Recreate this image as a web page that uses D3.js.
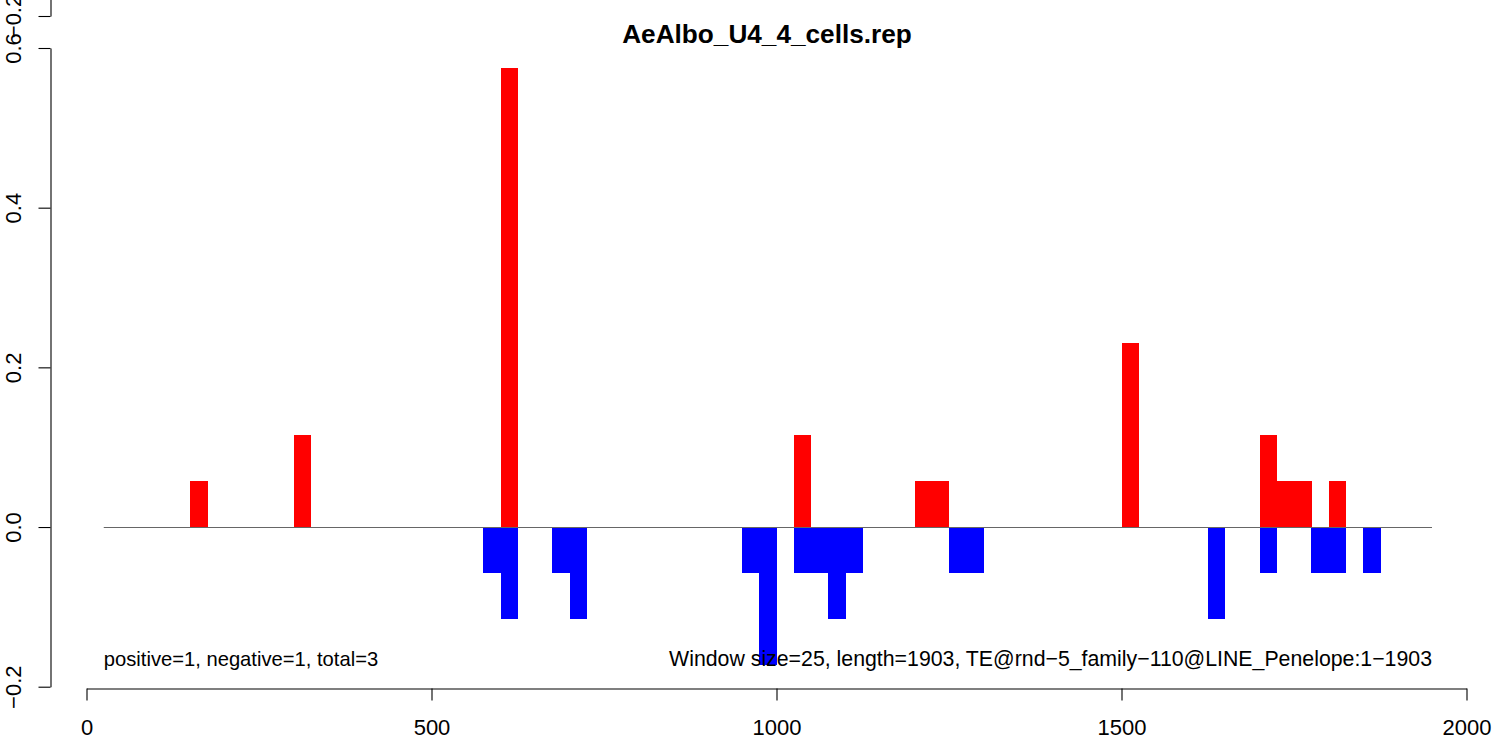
<!DOCTYPE html>
<html>
<head>
<meta charset="utf-8">
<script src="https://cdn.jsdelivr.net/npm/d3@7"></script>
<style>
  html, body { margin: 0; padding: 0; background: #fff; }
  svg { display: block; }
  text { font-family: "Liberation Sans", Arial, Helvetica, sans-serif; fill: #000; }
</style>
</head>
<body>
<svg id="chart" width="1493" height="740"></svg>
<script>
// ---- data ----
const title = "AeAlbo_U4_4_cells.rep";
const windowSize = 25;
const posStarts = [150, 300, 600, 1025, 1200, 1225, 1500, 1700, 1725, 1750, 1800];
const posValues = [0.0575, 0.115, 0.575, 0.115, 0.0575, 0.0575, 0.23, 0.115, 0.0575, 0.0575, 0.0575];
const negStarts = [575, 600, 675, 700, 950, 975, 1025, 1050, 1075, 1100, 1250, 1275, 1625, 1700, 1775, 1800, 1850];
const negValues = [-0.0575, -0.115, -0.0575, -0.115, -0.0575, -0.1725, -0.0575, -0.0575, -0.115, -0.0575, -0.0575, -0.0575, -0.115, -0.0575, -0.0575, -0.0575, -0.0575];
const baselineRange = [25, 1950];
const xTicks = [0, 500, 1000, 1500, 2000];
const yTicks = [-0.2, 0.0, 0.2, 0.4, 0.6];
const yTicksAbove = [-0.2];
const leftNote = "positive=1, negative=1, total=3";
const rightNote = "Window size=25, length=1903, TE@rnd\u22125_family\u2212110@LINE_Penelope:1\u22121903";

// ---- layout ----
const svg = d3.select("#chart");
const x = d3.scaleLinear().domain([0, 2000]).range([86.5, 1466.5]);
const y = d3.scaleLinear().domain([-0.2, 0.6]).range([686.7, 48]);
const fs = 22;

// bars
const barG = svg.append("g").attr("shape-rendering", "crispEdges");
barG.append("g").selectAll("rect").data(posStarts.map((s, i) => ({s, v: posValues[i]})))
  .join("rect")
  .attr("x", d => x(d.s)).attr("width", d => x(d.s + windowSize) - x(d.s) + 0.3)
  .attr("y", d => y(d.v)).attr("height", d => y(0) - y(d.v))
  .attr("fill", "#ff0000");
barG.append("g").selectAll("rect").data(negStarts.map((s, i) => ({s, v: negValues[i]})))
  .join("rect")
  .attr("x", d => x(d.s)).attr("width", d => x(d.s + windowSize) - x(d.s) + 0.3)
  .attr("y", y(0)).attr("height", d => y(d.v) - y(0))
  .attr("fill", "#0000ff");

// baseline
svg.append("line")
  .attr("x1", x(baselineRange[0])).attr("x2", x(baselineRange[1]))
  .attr("y1", Math.round(y(0)) + 0.5).attr("y2", Math.round(y(0)) + 0.5)
  .attr("stroke", "#666").attr("stroke-width", 1.1);

// x axis
const xAxis = svg.append("g").attr("transform", "translate(0,688.5)")
  .call(d3.axisBottom(x).tickValues(xTicks).tickFormat(d3.format("d")).tickSize(12).tickSizeOuter(0));
xAxis.selectAll("path, line").attr("stroke", "#000").attr("stroke-width", 1.1);
xAxis.selectAll("text").attr("font-size", fs).attr("font-family", "Liberation Sans, Arial, sans-serif")
  .attr("fill", "#000").attr("y", null).attr("dy", null).attr("transform", "translate(0,46.5)");

// y axis
function drawYAxis(scale, ticks) {
  const g = svg.append("g").attr("transform", "translate(50.5,0)")
    .call(d3.axisLeft(scale).tickValues(ticks).tickFormat(d3.format(".1f")).tickSize(12).tickSizeOuter(0));
  g.selectAll("path, line").attr("stroke", "#000").attr("stroke-width", 1.1);
  g.selectAll(".tick text").attr("font-size", fs).attr("font-family", "Liberation Sans, Arial, sans-serif")
    .attr("fill", "#000").attr("x", null).attr("dy", null).attr("text-anchor", "middle")
    .attr("transform", "translate(-30,0) rotate(-90)");
  return g;
}
drawYAxis(y, yTicks);
// y axis of the panel above (only its bottom tick is visible)
const yAbove = y.copy().range([y.range()[0] - 670.7, y.range()[1] - 670.7]);
drawYAxis(yAbove, yTicksAbove);

// title
svg.append("text").attr("x", 767).attr("y", 43).attr("text-anchor", "middle")
  .attr("font-weight", "bold").attr("font-size", 26.2).text(title);

// notes
svg.append("text").attr("x", x(baselineRange[0])).attr("y", 666).attr("font-size", 20.2).text(leftNote);
svg.append("text").attr("x", x(baselineRange[1])).attr("y", 666).attr("text-anchor", "end").attr("font-size", 21.3).text(rightNote);
</script>
</body>
</html>
